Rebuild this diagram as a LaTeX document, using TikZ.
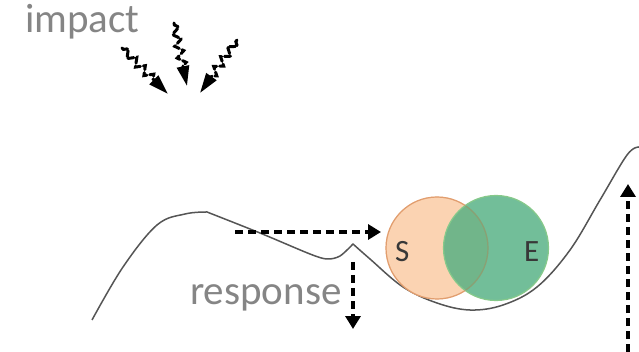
\documentclass[tikz,border=0pt]{standalone}
\usepackage{fontspec}
\setmainfont{Carlito}
\usetikzlibrary{arrows.meta,decorations.pathmorphing}
\definecolor{txtgray}{HTML}{858585}
\definecolor{letter}{HTML}{383838}
\definecolor{sfill}{HTML}{FBD3B2}
\definecolor{sedge}{HTML}{F2AA78}
\definecolor{efill}{HTML}{4FAE80}
\definecolor{eedge}{HTML}{86C98A}
\definecolor{curvecol}{HTML}{555555}
\tikzset{
  lbl/.style={anchor=base west, inner sep=0pt, text=txtgray, font=\fontsize{41}{43}\selectfont},
  letterlbl/.style={anchor=base west, inner sep=0pt, text=letter, font=\fontsize{31}{32}\selectfont},
  darrow/.style={line width=3.3pt, dash pattern=on 8pt off 5pt, -{Triangle[length=13pt,width=15pt]}},
  squiggle/.style={line width=3pt, dash pattern=on 6pt off 3pt, line cap=round,
    decorate, decoration={zigzag, segment length=12pt, amplitude=4pt, pre length=2pt, post length=18pt},
    -{Triangle[length=20pt,width=12pt]}},
  landscape/.style={draw=curvecol, line width=1.5pt, line join=round}
}
\begin{document}
\begin{tikzpicture}[x=1pt,y=-1pt]
\useasboundingbox (0,0) rectangle (639,352);
% landscape curve
\draw[landscape] plot[smooth, tension=0.6] coordinates {(92,320) (123,267) (157,225) (185,214) (207,212)}
  -- plot[smooth, tension=0.5] coordinates {(207,212) (260,233) (310,254) (327,259) (340,256) (353,244)}
  -- plot[smooth, tension=0.6] coordinates {(353,244) (370,259) (403,287) (437,303) (470,310) (503,305) (537,287) (570,250) (600,200) (627,155) (639,147)};
% circles
\node[circle, minimum size=102pt, inner sep=0pt, fill=sfill, draw=sedge, line width=1.2pt] (S) at (437,248) {};
\node[circle, minimum size=105pt, inner sep=0pt, fill=efill, fill opacity=0.8, draw=eedge, line width=1.2pt] (E) at (496,248) {};
\node[circle, minimum size=102pt, inner sep=0pt, draw=sedge!80!black, draw opacity=0.35, line width=1.2pt] (Sring) at (437,248) {};
\node[letterlbl] (Slbl) at (395,262) {S};
\node[letterlbl] (Elbl) at (524,262) {E};
% labels
\node[lbl] (impact) at (25,33) {impact};
\node[lbl] (response) at (190,305) {response};
% dashed arrows
\coordinate (h1) at (235,232);
\coordinate (h2) at (381,232);
\draw[darrow] (h1) -- (h2);
\coordinate (d1) at (353,262);
\coordinate (d2) at (353,329);
\draw[darrow] (d1) -- (d2);
\coordinate (u1) at (628,352);
\coordinate (u2) at (628,184);
\draw[darrow] (u1) -- (u2);
% impact arrows
\coordinate (a1) at (122,48);
\coordinate (a2) at (168,94);
\coordinate (b1) at (174,23);
\coordinate (b2) at (187,86);
\coordinate (c1) at (237,40);
\coordinate (c2) at (200,93);
\draw[squiggle] (a1) -- (a2);
\draw[squiggle] (b1) -- (b2);
\draw[squiggle] (c1) -- (c2);
\end{tikzpicture}
\end{document}
